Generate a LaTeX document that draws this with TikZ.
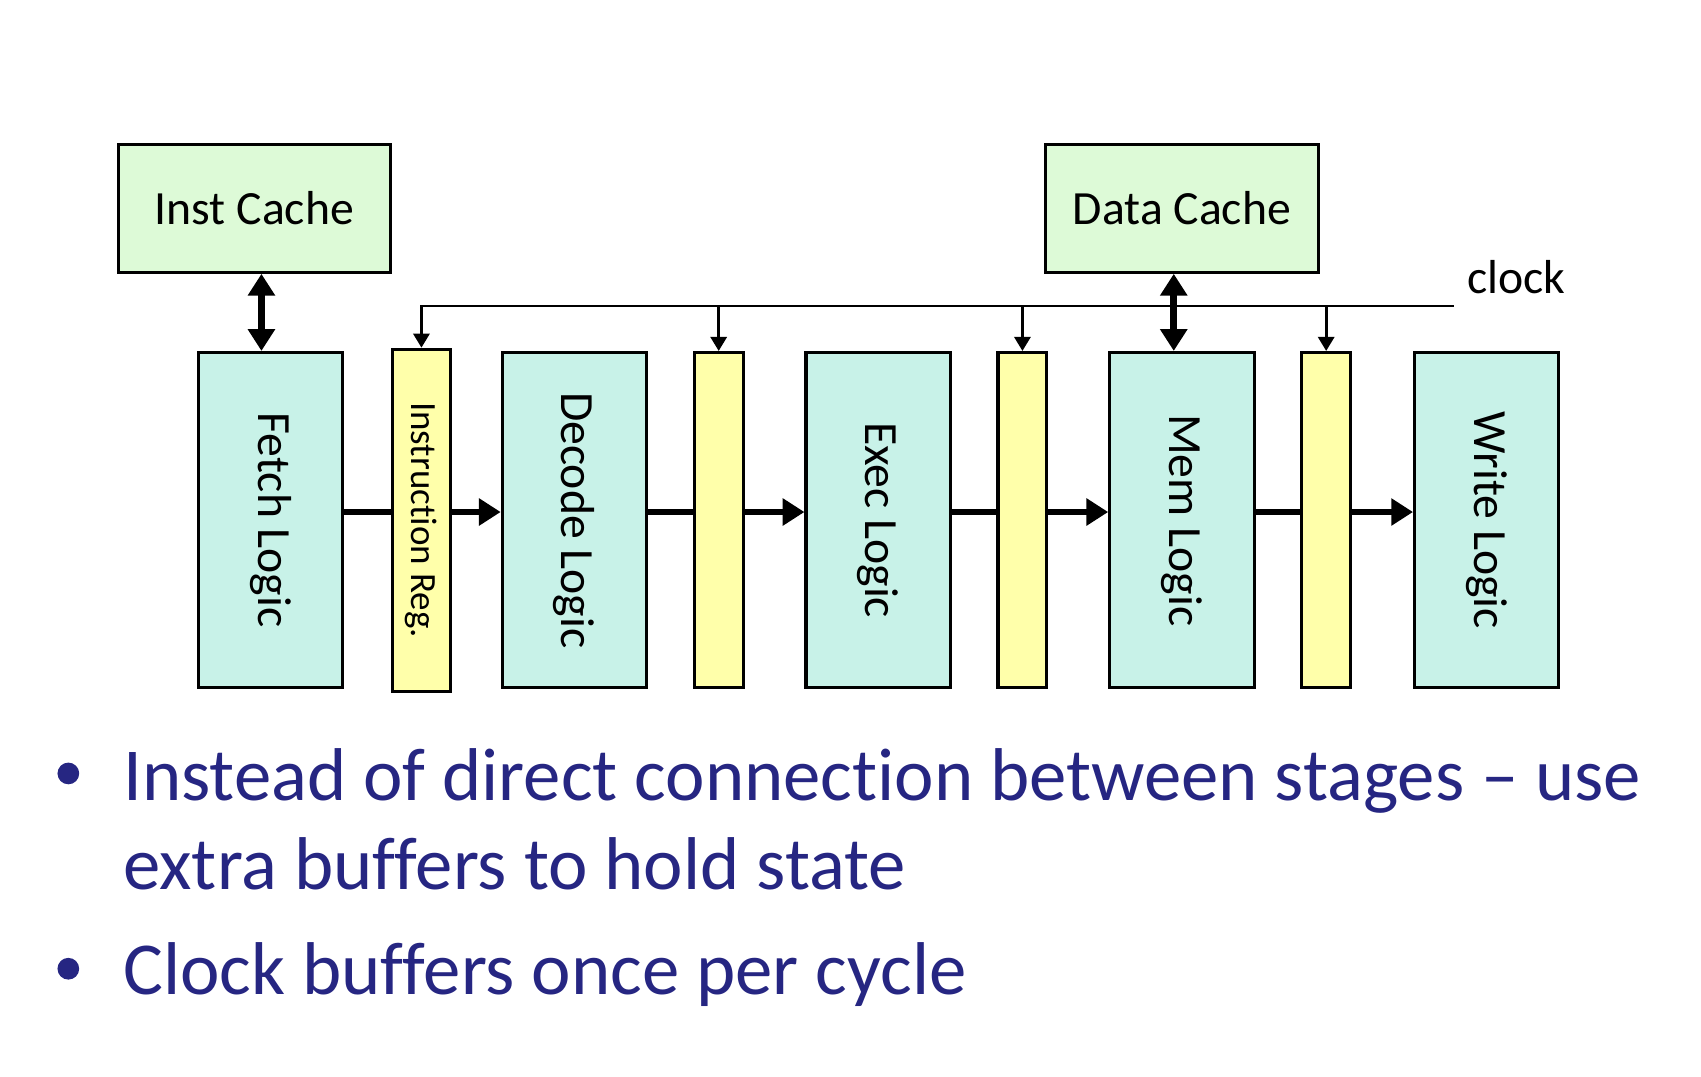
\documentclass[tikz,border=0pt]{standalone}
\usepackage{fontspec}
\usepackage{graphicx}
\setmainfont{Carlito}[Ligatures=NoCommon]
\usetikzlibrary{arrows.meta}
\definecolor{cachegreen}{RGB}{221,250,215}
\definecolor{logicteal}{RGB}{200,242,232}
\definecolor{bufyellow}{RGB}{255,255,170}
\definecolor{slideblue}{RGB}{38,38,130}
\tikzset{
  cache/.style={draw,line width=0.8pt,fill=cachegreen,minimum width=2.51cm,minimum height=1.18cm,font=\fontsize{12.5}{15}\selectfont},
  logic/.style={draw,line width=0.8pt,fill=logicteal,minimum width=1.33cm,minimum height=3.09cm,inner sep=0pt,font=\fontsize{12.5}{15}\selectfont},
  buf/.style={draw,line width=0.8pt,fill=bufyellow,minimum width=0.45cm,minimum height=3.09cm,inner sep=0pt},
  bus/.style={line width=1.8pt,{Triangle[width=0.24cm,length=0.2cm]}-{Triangle[width=0.24cm,length=0.2cm]}},
  datapath/.style={line width=1.8pt},
  clkline/.style={line width=0.7pt},
  bullettext/.style={anchor=base west,inner sep=0pt,text=slideblue,font=\fontsize{19.6}{23}\selectfont}
}
\begin{document}
\begin{tikzpicture}[x=0.01cm,y=-0.01cm]
\useasboundingbox (0,0) rectangle (1568,992);
% caches
\node[cache] (icache) at (234.5,192) {Inst Cache};
\node[cache] (dcache) at (1089.5,192) {Data Cache};
% stages and buffers
\node[logic] (fetch) at (249.5,479.5) {\rotatebox{-90}{Fetch Logic}};
\node[buf,minimum width=0.53cm,minimum height=3.15cm,font=\fontsize{9.7}{12}\selectfont] (ireg) at (388.5,479.5) {\rotatebox{-90}{Instruction Reg.}};
\node[logic] (decode) at (529.5,479.5) {\rotatebox{-90}{Decode Logic}};
\node[buf] (bufb) at (662.5,479.5) {};
\node[logic] (exec) at (809.5,479.5) {\rotatebox{-90}{Exec Logic}};
\node[buf] (bufc) at (942.5,479.5) {};
\node[logic] (mem) at (1089.5,479.5) {\rotatebox{-90}{Mem Logic}};
\node[buf] (bufd) at (1222.5,479.5) {};
\node[logic] (write) at (1370.5,479.5) {\rotatebox{-90}{Write Logic}};
% cache ports
\draw[bus] ([xshift=0.065cm]icache.south) -- ([xshift=0.065cm]icache.south |- fetch.north);
\draw[bus] ([xshift=-0.075cm]dcache.south) -- ([xshift=-0.075cm]dcache.south |- mem.north);
% data path
\draw[datapath] ([yshift=0.075cm]fetch.east) -- ([yshift=0.075cm]fetch.east -| ireg.west);
\draw[datapath,-{Triangle[width=0.24cm,length=0.2cm]}] ([yshift=0.075cm]ireg.east) -- ([yshift=0.075cm]decode.west);
\draw[datapath] ([yshift=0.075cm]decode.east) -- ([yshift=0.075cm]bufb.west);
\draw[datapath,-{Triangle[width=0.24cm,length=0.2cm]}] ([yshift=0.075cm]bufb.east) -- ([yshift=0.075cm]exec.west);
\draw[datapath] ([yshift=0.075cm]exec.east) -- ([yshift=0.075cm]bufc.west);
\draw[datapath,-{Triangle[width=0.24cm,length=0.2cm]}] ([yshift=0.075cm]bufc.east) -- ([yshift=0.075cm]mem.west);
\draw[datapath] ([yshift=0.075cm]mem.east) -- ([yshift=0.075cm]bufd.west);
\draw[datapath,-{Triangle[width=0.24cm,length=0.2cm]}] ([yshift=0.075cm]bufd.east) -- ([yshift=0.075cm]write.west);
% clock
\coordinate (clk) at (1340,282);
\node[font=\fontsize{12.5}{15}\selectfont] (clklabel) at (1398,255) {clock};
\draw[clkline,-{Triangle[width=0.15cm,length=0.13cm]}] (clk) -- (ireg.north |- clk) -- (ireg.north);
\draw[clkline,-{Triangle[width=0.15cm,length=0.13cm]}] (bufb.north |- clk) -- (bufb.north);
\draw[clkline,-{Triangle[width=0.15cm,length=0.13cm]}] (bufc.north |- clk) -- (bufc.north);
\draw[clkline,-{Triangle[width=0.15cm,length=0.13cm]}] (bufd.north |- clk) -- (bufd.north);
% bullets
\node[circle,fill=slideblue,minimum size=0.2cm,inner sep=0pt] (dot1) at (63,713) {};
\node[bullettext] (line1) at (113,738) {Instead of direct connection between stages – use};
\node[bullettext] (line2) at (113,820) {extra buffers to hold state};
\node[circle,fill=slideblue,minimum size=0.2cm,inner sep=0pt] (dot2) at (63,893) {};
\node[bullettext] (line3) at (113,917) {Clock buffers once per cycle};
\end{tikzpicture}
\end{document}
